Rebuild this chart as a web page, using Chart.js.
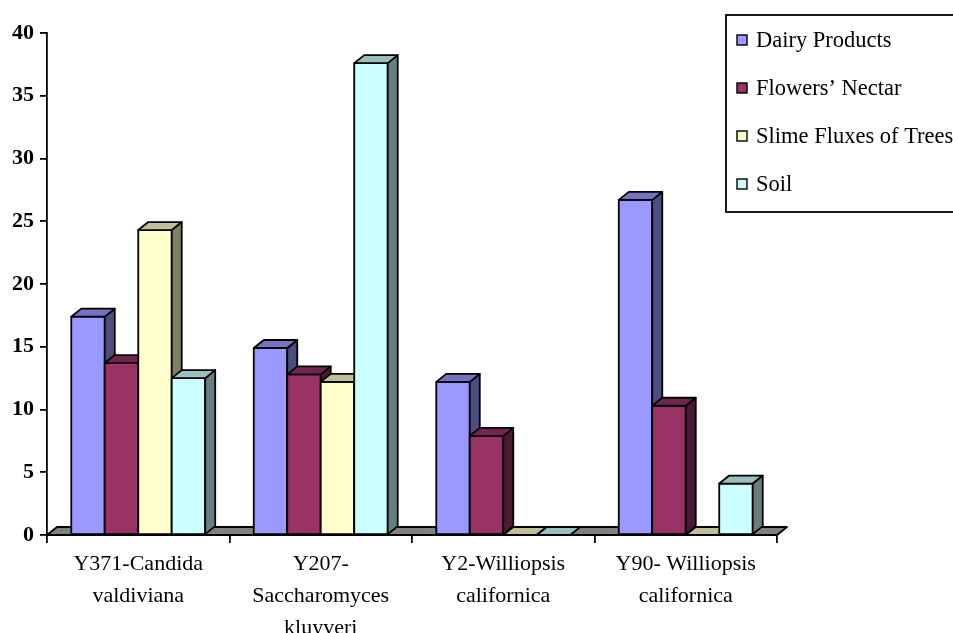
<!DOCTYPE html>
<html>
<head>
<meta charset="utf-8">
<script src="https://cdn.jsdelivr.net/npm/chart.js@4/dist/chart.umd.min.js"></script>
<style>
  html, body { margin: 0; padding: 0; background: #ffffff; }
  #wrap { width: 953px; height: 633px; }
</style>
</head>
<body>
<div id="wrap"><canvas id="chart" width="953" height="633"></canvas></div>
<script>
// Yeast isolates (multi-line category labels)
const categories = [
  ['Y371-Candida', 'valdiviana'],
  ['Y207-', 'Saccharomyces', 'kluyveri'],
  ['Y2-Williopsis', 'californica'],
  ['Y90- Williopsis', 'californica']
];
const seriesNames = ['Dairy Products', 'Flowers\u2019 Nectar', 'Slime Fluxes of Trees', 'Soil'];

// Values per isolation source
const dairyProducts = [17.4, 14.9, 12.2, 26.7];
const flowersNectar = [13.7, 12.8, 7.9, 10.3];
const slimeFluxes   = [24.3, 12.2, 0, 0];
const soil          = [12.5, 37.6, 0, 4.1];

const yTicks = [0, 5, 10, 15, 20, 25, 30, 35, 40];

const frontColors = ['#9999FF', '#993366', '#FFFFCC', '#CCFFFF'];
const FONT = "'Liberation Serif', 'Times New Roman', serif";
const DX = 10, DY = 8;   // depth offset of the pseudo-3D faces
const EDGE = 1.8;        // outline width

function shade(hex, f) {
  const n = parseInt(hex.slice(1), 16);
  const r = Math.round(((n >> 16) & 255) * f);
  const g = Math.round(((n >> 8) & 255) * f);
  const b = Math.round((n & 255) * f);
  return 'rgb(' + r + ',' + g + ',' + b + ')';
}

function poly(ctx, pts, fill) {
  ctx.beginPath();
  ctx.moveTo(pts[0][0], pts[0][1]);
  for (let i = 1; i < pts.length; i++) ctx.lineTo(pts[i][0], pts[i][1]);
  ctx.closePath();
  ctx.fillStyle = fill;
  ctx.fill();
  ctx.stroke();
}

// Floor slab plus front / top / side faces of each column
const columns3d = {
  id: 'columns3d',
  beforeDatasetsDraw(chart) {
    const { ctx, chartArea: a } = chart;
    ctx.save();
    ctx.lineWidth = EDGE;
    ctx.strokeStyle = '#000';
    ctx.lineJoin = 'round';
    poly(ctx, [[a.left, a.bottom], [a.right, a.bottom], [a.right + DX, a.bottom - DY], [a.left + DX, a.bottom - DY]], '#808080');
    ctx.restore();
  },
  afterDatasetsDraw(chart) {
    const ctx = chart.ctx;
    ctx.save();
    ctx.lineWidth = EDGE;
    ctx.strokeStyle = '#000';
    ctx.lineJoin = 'round';
    chart.data.datasets.forEach((ds, i) => {
      const meta = chart.getDatasetMeta(i);
      const col = frontColors[i];
      meta.data.forEach(el => {
        const p = el.getProps(['x', 'y', 'base', 'width'], true);
        const l = p.x - p.width / 2, r = p.x + p.width / 2;
        const top = Math.min(p.y, p.base), base = p.base;
        if (base - top > 0.5) {
          poly(ctx, [[l, top], [r, top], [r, base], [l, base]], col);
          poly(ctx, [[r, top], [r, base], [r + DX, base - DY], [r + DX, top - DY]], shade(col, 0.5));
        }
        poly(ctx, [[l, top], [r, top], [r + DX, top - DY], [l + DX, top - DY]], shade(col, 0.75));
      });
    });
    ctx.restore();
  },
  afterDraw(chart) {
    // Legend box
    const ctx = chart.ctx;
    ctx.save();
    ctx.lineWidth = EDGE;
    ctx.strokeStyle = '#000';
    ctx.fillStyle = '#fff';
    ctx.fillRect(726, 15, 260, 197);
    ctx.strokeRect(726, 15, 260, 197);
    ctx.font = '22.5px ' + FONT;
    ctx.textBaseline = 'middle';
    ctx.textAlign = 'left';
    chart.data.datasets.forEach((ds, i) => {
      const cy = 40 + i * 48;
      ctx.fillStyle = frontColors[i];
      ctx.fillRect(737, cy - 5, 10, 10);
      ctx.lineWidth = 1.4;
      ctx.strokeRect(737, cy - 5, 10, 10);
      ctx.fillStyle = '#000';
      ctx.fillText(ds.label, 756, cy + 1);
    });
    ctx.restore();
  }
};

new Chart(document.getElementById('chart'), {
  type: 'bar',
  data: {
    labels: categories,
    datasets: [
      { label: seriesNames[0], data: dairyProducts, backgroundColor: frontColors[0] },
      { label: seriesNames[1], data: flowersNectar, backgroundColor: frontColors[1] },
      { label: seriesNames[2], data: slimeFluxes, backgroundColor: frontColors[2] },
      { label: seriesNames[3], data: soil, backgroundColor: frontColors[3] }
    ]
  },
  options: {
    responsive: false,
    animation: false,
    events: [],
    layout: { padding: { top: 33, right: 176, left: 0, bottom: 0 } },
    datasets: { bar: { barPercentage: 1.0, categoryPercentage: 0.734, borderWidth: 0 } },
    plugins: { legend: { display: false }, tooltip: { enabled: false } },
    scales: {
      x: {
        offset: true,
        grid: { offset: true, drawOnChartArea: false, drawTicks: true, tickLength: 8, color: '#000', lineWidth: EDGE },
        border: { display: false },
        ticks: { color: '#000', font: { family: FONT, size: 22, lineHeight: 1.45 }, padding: 5, maxRotation: 0, autoSkip: false },
        afterFit(s) { s.height = 98; }
      },
      y: {
        min: 0, max: 40,
        afterBuildTicks(s) { s.ticks = yTicks.map(v => ({ value: v })); },
        grid: { drawOnChartArea: false, drawTicks: true, tickLength: 7, color: '#000', lineWidth: EDGE },
        border: { display: true, color: '#000', width: EDGE },
        ticks: { color: '#000', font: { family: FONT, size: 22, weight: 'bold' }, padding: 6 },
        afterFit(s) { s.width = 47; }
      }
    }
  },
  plugins: [columns3d]
});
</script>
</body>
</html>
